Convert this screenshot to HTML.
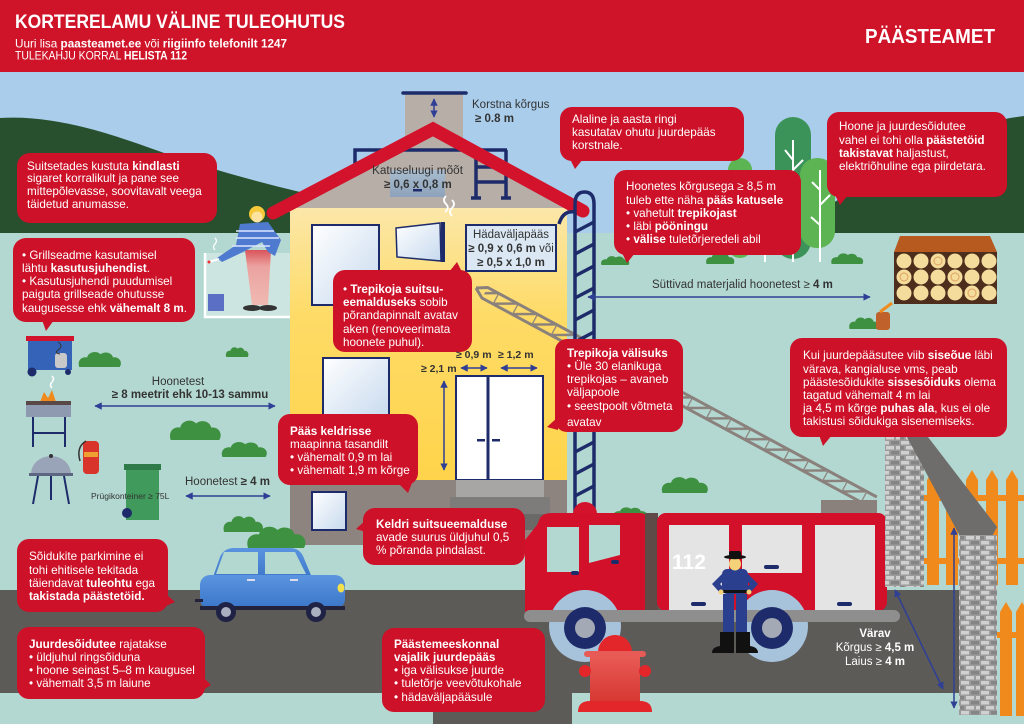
<!DOCTYPE html>
<html><head><meta charset="utf-8">
<style>
html,body{margin:0;padding:0;width:1024px;height:724px;overflow:hidden;background:#b3d8d1}
#wrap{position:relative;width:1024px;height:724px;font-family:"Liberation Sans",Arial,sans-serif}
svg{position:absolute;left:0;top:0}
.b{position:absolute;color:#fff;font-size:11.7px;line-height:13.2px;white-space:nowrap}
.b b{font-weight:bold}
</style></head><body><div id="wrap">
<svg width="1024" height="724" viewBox="0 0 1024 724">
<defs>
<linearGradient id="yel" x1="0" y1="0" x2="0" y2="1"><stop offset="0" stop-color="#fbe7a9"/><stop offset="0.4" stop-color="#fedb66"/><stop offset="1" stop-color="#ffd44b"/></linearGradient>
<linearGradient id="win" x1="0" y1="0" x2="1" y2="1"><stop offset="0" stop-color="#ffffff"/><stop offset="1" stop-color="#c6d9ee"/></linearGradient>
<linearGradient id="skl" x1="0" y1="0" x2="0" y2="1"><stop offset="0" stop-color="#a9bccf"/><stop offset="1" stop-color="#8ea3bb"/></linearGradient>
<linearGradient id="leg" x1="0" y1="0" x2="0" y2="1"><stop offset="0" stop-color="#d9545a"/><stop offset="0.3" stop-color="#eba3a0"/><stop offset="1" stop-color="#f0b9b2"/></linearGradient>
<linearGradient id="hyd" x1="0" y1="0" x2="0" y2="1"><stop offset="0" stop-color="#e85a55"/><stop offset="1" stop-color="#d5352f"/></linearGradient>
<linearGradient id="car" x1="0" y1="0" x2="0" y2="1"><stop offset="0" stop-color="#5b95e0"/><stop offset="1" stop-color="#3a75c8"/></linearGradient>
<pattern id="brick" width="20" height="10" patternUnits="userSpaceOnUse">
<rect width="20" height="10" fill="#9c9c9c"/>
<rect x="1" y="1" width="8" height="3.5" fill="#d0d0d0"/><rect x="11" y="1" width="8" height="3.5" fill="#858585"/>
<rect x="-4" y="6" width="8" height="3.5" fill="#858585"/><rect x="6" y="6" width="8" height="3.5" fill="#d0d0d0"/><rect x="16" y="6" width="8" height="3.5" fill="#d0d0d0"/>
</pattern>
<pattern id="truss" width="22" height="12" y="-6" patternUnits="userSpaceOnUse">
<path d="M0,0V12 M0,12L22,0" stroke="#8b817c" stroke-width="2.5" fill="none"/>
</pattern>
<symbol id="bush" viewBox="0 0 40 16" preserveAspectRatio="none"><path d="M2,16 C0,10 4,6 9,7 C10,2 17,0 21,4 C24,1 31,2 32,7 C37,6 41,11 38,16 Z" fill="#3f9142"/></symbol>
<marker id="ah" viewBox="0 0 10 10" refX="9" refY="5" markerWidth="5" markerHeight="5" orient="auto-start-reverse"><path d="M0,0 L10,5 L0,10 z" fill="#2f3f95"/></marker>
</defs>

<!-- header & sky -->
<rect x="0" y="0" width="1024" height="72" fill="#cf1429"/>
<rect x="0" y="72" width="1024" height="170" fill="#a9cdeb"/>
<path d="M0,118 C50,115 100,130 150,148 S250,180 300,192 L300,240 L0,240 Z" fill="#284f2e"/>
<path d="M830,240 L833,203 C880,175 950,130 1010,118 L1024,116 L1024,240 Z" fill="#284f2e"/>
<rect x="0" y="233" width="1024" height="491" fill="#b3d8d1"/>

<!-- road -->
<rect x="0" y="590" width="960" height="103" fill="#5c5b57"/>
<rect x="433" y="690" width="139" height="34" fill="#5c5b57"/>

<!-- trees -->
<rect x="728" y="158" width="24" height="100" rx="12" fill="#5cb552"/>
<rect x="775" y="117" width="36" height="142" rx="18" fill="#3c935a"/>
<rect x="800" y="158" width="35" height="90" rx="17" fill="#5cb552"/>
<path d="M793,140 V262 M793,160 L785,150 M793,170 L803,160 M793,195 L784,185 M820,170 V262 M820,190 L812,182 M820,205 L830,195 M820,225 L811,217 M765,235 V262" stroke="#fff" stroke-width="2" fill="none"/>
<use href="#bush" x="705" y="252" width="30" height="12"/>
<use href="#bush" x="830" y="252" width="34" height="12"/>
<use href="#bush" x="600" y="255" width="30" height="10"/>

<!-- firewood -->
<polygon points="900,236 990,236 997,252 894,252" fill="#b75a1f"/>
<rect x="894" y="252" width="103" height="52" fill="#4d2d1c"/>
<g fill="#f3dc9c">
<circle cx="904" cy="261" r="7.5"/><circle cx="921" cy="261" r="7.5"/><circle cx="938" cy="261" r="7.5"/><circle cx="955" cy="261" r="7.5"/><circle cx="972" cy="261" r="7.5"/><circle cx="989" cy="261" r="7.5"/>
<circle cx="904" cy="277" r="7.5"/><circle cx="921" cy="277" r="7.5"/><circle cx="938" cy="277" r="7.5"/><circle cx="955" cy="277" r="7.5"/><circle cx="972" cy="277" r="7.5"/><circle cx="989" cy="277" r="7.5"/>
<circle cx="904" cy="293" r="7.5"/><circle cx="921" cy="293" r="7.5"/><circle cx="938" cy="293" r="7.5"/><circle cx="955" cy="293" r="7.5"/><circle cx="972" cy="293" r="7.5"/><circle cx="989" cy="293" r="7.5"/>
</g>
<g fill="none" stroke="#e0a060" stroke-width="1"><circle cx="938" cy="261" r="4"/><circle cx="904" cy="277" r="4"/><circle cx="955" cy="277" r="4"/><circle cx="972" cy="293" r="4"/></g>
<use href="#bush" x="848" y="316" width="32" height="13"/>
<rect x="876" y="312" width="14" height="18" rx="3" fill="#c0602a"/>
<path d="M880,312 L892,303" stroke="#f08a1c" stroke-width="3"/>

<!-- bushes left/mid -->
<use href="#bush" x="77" y="350" width="45" height="17"/>
<use href="#bush" x="225" y="346" width="24" height="11"/>
<use href="#bush" x="168" y="418" width="54" height="22"/>
<use href="#bush" x="220" y="440" width="48" height="17"/>
<use href="#bush" x="660" y="475" width="49" height="18"/>

<!-- house -->
<rect x="405" y="93" width="58" height="70" fill="#b7aea8"/>
<line x1="403" y1="93" x2="466" y2="93" stroke="#1e2b6b" stroke-width="3.5" stroke-linecap="round"/>
<line x1="434" y1="99" x2="434" y2="117" stroke="#2f3f95" stroke-width="1.5" marker-start="url(#ah)" marker-end="url(#ah)"/>
<polygon points="284,212 433,132 577,212" fill="#b7aea8"/>
<rect x="290" y="208" width="277" height="272" fill="url(#yel)"/>
<g stroke="#1e2b6b" stroke-width="3.5" fill="none">
<path d="M355,165 V150 H507"/>
<path d="M476,150 V198 M506,150 V198 M476,167 H506 M476,182 H506 M471,198 H481 M501,198 H511"/>
</g>
<rect x="390" y="170" width="55" height="27" fill="url(#skl)"/>
<rect x="413" y="189" width="9" height="2.5" fill="#1e2b6b"/>
<path d="M446,196 q-4,4 0,8 q4,4 -1,8 M452,200 q4,4 0,8 q-4,4 0,8" stroke="#fff" stroke-width="1.8" fill="none"/>
<polyline points="273,213 433,129 583,211" fill="none" stroke="#d2132b" stroke-width="13" stroke-linecap="round" stroke-linejoin="miter"/>

<rect x="312" y="225" width="67" height="80" fill="url(#win)" stroke="#1e2b6b" stroke-width="2"/>
<polygon points="396,228 440,223 441,261 397,257" fill="url(#win)" stroke="#1e2b6b" stroke-width="1.5"/>
<rect x="441" y="222" width="4" height="40" fill="#1e2b6b"/>
<rect x="466" y="225" width="90" height="46" fill="#dbe8f4" stroke="#1e2b6b" stroke-width="2"/>
<rect x="323" y="358" width="66" height="62" fill="url(#win)" stroke="#1e2b6b" stroke-width="2"/>
<rect x="456" y="376" width="87" height="104" fill="#fff" stroke="#1e2b6b" stroke-width="2"/>
<line x1="488" y1="376" x2="488" y2="480" stroke="#1e2b6b" stroke-width="3"/>
<rect x="477" y="439" width="8" height="2.5" fill="#1e2b6b"/><rect x="492" y="439" width="8" height="2.5" fill="#1e2b6b"/>
<rect x="290" y="480" width="277" height="65" fill="#8d8480"/>
<rect x="456" y="480" width="88" height="17" fill="#a8a6a4"/>
<rect x="450" y="497" width="100" height="17" fill="#7d7c7b"/>
<rect x="443" y="514" width="114" height="16" fill="#6a6968"/>
<rect x="312" y="492" width="34" height="38" fill="url(#win)" stroke="#1e2b6b" stroke-width="2"/>

<!-- balcony & person -->
<rect x="204" y="253" width="86" height="64" fill="#cde5e1"/>
<path d="M205,253 V317 H290" stroke="#fff" stroke-width="2.5" fill="none"/>
<rect x="208" y="294" width="16" height="17" fill="#5b6fc4"/>
<polygon points="245,250 271,250 268,305 252,305" fill="url(#leg)"/>
<ellipse cx="252" cy="308" rx="9" ry="3" fill="#333"/><ellipse cx="268" cy="308" rx="9" ry="3" fill="#333"/>
<path d="M240,224 L268,222 L281,240 L275,256 L268,252 L262,242 L243,252 L222,262 L217,258 L236,245 Z" fill="#4e7bd0"/>
<path d="M236,231 H274 M236,238 H279 M232,246 H270" stroke="#dbe6ff" stroke-width="1.6"/>
<circle cx="257" cy="214" r="8" fill="#f6c93a"/><circle cx="257" cy="217" r="5.5" fill="#fde3a0"/>
<path d="M209,262 L219,259" stroke="#fff" stroke-width="2"/><circle cx="209" cy="262" r="1.5" fill="#e33"/>
<path d="M215,250 q-3,-3 0,-6 q3,-3 0,-6" stroke="#fff" stroke-width="1.3" fill="none"/>

<!-- truss ladder -->
<g transform="translate(476,288) rotate(28.3)">
<rect x="10" y="-6" width="442" height="12" fill="url(#truss)"/>
<path d="M0,0 L10,-6 H452 M0,0 L10,6 H452" stroke="#8b817c" stroke-width="3" fill="none"/>
</g>
<rect x="821" y="500" width="56" height="20" fill="#8b817c"/>

<!-- navy ladder -->
<g stroke="#1e2b6b" stroke-width="3.5" fill="none">
<path d="M575,540 V204 Q575,192 584.5,192 Q594,192 594,204 V540"/>
<path d="M575,212 Q563,210 559,224"/>
<path d="M575,232 L594,222 M575,254 L594,244 M575,276 L594,266 M575,298 L594,288 M575,320 L594,310 M575,342 L594,332 M575,364 L594,354 M575,386 L594,376 M575,408 L594,398 M575,430 L594,420 M575,452 L594,442 M575,474 L594,464 M575,496 L594,486 M575,518 L594,508"/>
</g>

<!-- left items -->
<rect x="28" y="340" width="44" height="30" fill="#3563b8"/>
<rect x="26" y="336" width="48" height="5" fill="#d2132b"/>
<rect x="55" y="353" width="12" height="15" rx="3" fill="#c9c9c9"/>
<path d="M58,342 q6,4 0,8 q-4,3 2,4" stroke="#333" stroke-width="1" fill="none"/>
<circle cx="32" cy="372" r="4.5" fill="#1e2b6b"/><circle cx="68" cy="372" r="3" fill="#1e2b6b"/>
<path d="M40,402 L44,392 L48,398 L52,390 L56,402 Z" fill="#f08a1c"/>
<path d="M52,388 q-3,-3 0,-6 q3,-3 0,-6" stroke="#fff" stroke-width="1.5" fill="none"/>
<rect x="26" y="401" width="45" height="16" fill="#8e9ab0"/>
<rect x="26" y="401" width="45" height="4" fill="#5a4848"/>
<path d="M33,417 V447 M65,417 V447 M33,433 H65" stroke="#1e2b6b" stroke-width="2"/>
<path d="M31,474 A20,18 0 0 1 71,474 Z" fill="#9aa4b8"/>
<rect x="29" y="473" width="44" height="3" fill="#5d6680"/>
<circle cx="51" cy="456" r="2" fill="#333"/>
<path d="M38,476 L33,504 M51,476 L51,500 M64,476 L69,504" stroke="#1e2b6b" stroke-width="2"/>
<rect x="83" y="441" width="16" height="33" rx="4" fill="#d8342c"/>
<rect x="84" y="452" width="14" height="5" fill="#f0a030"/>
<path d="M86,441 q-10,6 -6,20" stroke="#333" stroke-width="1.5" fill="none"/>
<rect x="126" y="469" width="33" height="51" fill="#3f9a5b"/>
<rect x="124" y="464" width="37" height="6" fill="#2f7a49"/>
<circle cx="127" cy="513" r="5" fill="#1e2b6b"/>

<!-- car -->
<use href="#bush" x="222" y="514" width="42" height="18"/>
<use href="#bush" x="245" y="524" width="62" height="24"/>
<path d="M212,580 L220,557 Q224,548 234,548 L290,548 Q299,548 303,556 L313,580 Z" fill="url(#car)"/>
<rect x="200" y="575" width="145" height="34" rx="10" fill="url(#car)"/>
<polygon points="216,574 224,552 258,552 258,574" fill="#b2d8d0"/>
<polygon points="265,552 295,552 306,574 265,574" fill="#b2d8d0"/>
<rect x="247" y="579" width="8" height="2" fill="#dde"/><rect x="290" y="579" width="8" height="2" fill="#dde"/>
<rect x="200" y="606" width="145" height="4" fill="#22223a"/>
<rect x="195" y="599" width="8" height="3" fill="#22223a"/>
<ellipse cx="341" cy="588" rx="3.5" ry="4.5" fill="#f3e04a"/>
<circle cx="226" cy="612" r="10" fill="#1f2244"/><circle cx="226" cy="612" r="5" fill="#aab0c0"/>
<circle cx="316" cy="612" r="10" fill="#1f2244"/><circle cx="316" cy="612" r="5" fill="#aab0c0"/>

<!-- fire truck -->
<circle cx="585" cy="514" r="12" fill="#d2132b"/>
<use href="#bush" x="612" y="506" width="36" height="12"/>
<path d="M525,540 L537,525 L540,518 Q543,513 552,513 L640,513 Q647,513 647,520 L647,612 L525,612 Z" fill="#d2102a"/>
<polygon points="547,527 579,527 579,572 547,572" fill="#b3d8d1"/>
<polygon points="589,525 620,525 620,555 589,563" fill="#b3d8d1"/>
<rect x="645" y="513" width="13" height="98" fill="#5e4a47"/>
<rect x="657" y="513" width="230" height="98" rx="9" fill="#d2102a"/>
<rect x="669" y="525" width="60" height="86" fill="#e4e4e4"/>
<rect x="742" y="525" width="60" height="48" fill="#e4e4e4"/>
<rect x="815" y="525" width="60" height="86" fill="#e4e4e4"/>
<text x="672" y="569" fill="#fff" font-family="Liberation Sans, Arial, sans-serif" font-size="21" font-weight="bold">112</text>
<g fill="#1e2b6b"><rect x="691" y="602" width="15" height="4" rx="2"/><rect x="764" y="565" width="15" height="4" rx="2"/><rect x="837" y="602" width="15" height="4" rx="2"/><rect x="571" y="571" width="8" height="4" rx="2"/><rect x="611" y="560" width="8" height="4" rx="2"/></g>
<circle cx="585" cy="626" r="36" fill="#a7c3dc"/>
<circle cx="772" cy="626" r="36" fill="#a7c3dc"/>
<rect x="524" y="610" width="376" height="12" rx="6" fill="#8e8e8e"/>
<circle cx="585" cy="628" r="21" fill="#1e2b6b"/><circle cx="585" cy="628" r="10" fill="#a3aab5"/>
<circle cx="772" cy="628" r="21" fill="#1e2b6b"/><circle cx="772" cy="628" r="10" fill="#a3aab5"/>

<!-- firefighter -->
<rect x="723" y="594" width="11" height="38" fill="#2b3f8f"/><rect x="736" y="594" width="11" height="38" fill="#2b3f8f"/>
<path d="M720,632 H734 V653 H712 Q712,647 720,646 Z" fill="#111"/><path d="M736,632 H750 V646 Q758,647 758,653 H736 Z" fill="#111"/>
<rect x="722" y="569" width="26" height="25" rx="5" fill="#2b3f8f"/>
<path d="M724,572 L712,584 L721,594 L726,590 L720,584 L727,578 Z" fill="#2b3f8f"/>
<path d="M746,572 L758,584 L749,594 L744,590 L750,584 L743,578 Z" fill="#2b3f8f"/>
<rect x="722" y="590" width="26" height="3" fill="#111"/>
<circle cx="721" cy="592" r="2.5" fill="#f3d27a"/><circle cx="749" cy="592" r="2.5" fill="#f3d27a"/>
<ellipse cx="735" cy="564" rx="6" ry="6.5" fill="#f3d27a"/>
<rect x="729" y="551" width="12" height="6" rx="2" fill="#111"/>
<ellipse cx="735" cy="557" rx="11" ry="2.2" fill="#111"/>

<!-- hydrant -->
<path d="M598,652 A17,17 0 0 1 632,652 Z" fill="#e3262a"/>
<rect x="584" y="651" width="62" height="6" rx="3" fill="#e85a55"/>
<rect x="590" y="657" width="50" height="48" fill="url(#hyd)"/>
<circle cx="585" cy="671" r="6" fill="#e3262a"/><circle cx="645" cy="671" r="6" fill="#e3262a"/>
<path d="M578,712 Q578,701 590,701 H640 Q652,701 652,712 Z" fill="#e3262a"/>

<!-- gate -->
<g fill="#f08a1c">
<path d="M927,480 L933,470 L939,480 V585 H927 Z"/><path d="M946,480 L952,470 L958,480 V585 H946 Z"/><path d="M966,480 L972,470 L978,480 V585 H966 Z"/><path d="M986,480 L992,470 L998,480 V585 H986 Z"/><path d="M1006,480 L1012,470 L1018,480 V585 H1006 Z"/>
<rect x="924" y="495" width="100" height="6"/><rect x="924" y="558" width="100" height="6"/>
<path d="M1000,612 L1006,602 L1012,612 V716 H1000 Z"/><path d="M1016,612 L1022,602 L1028,612 V716 H1016 Z"/>
<rect x="997" y="632" width="27" height="6"/>
</g>
<rect x="885" y="437" width="39" height="150" fill="url(#brick)"/>
<polygon points="907,437 928,437 997,527 990,540 962,540" fill="#6e6d6c"/>
<rect x="959" y="535" width="38" height="180" fill="url(#brick)"/>
<line x1="895" y1="590" x2="943" y2="689" stroke="#2f3f95" stroke-width="1.5" marker-start="url(#ah)" marker-end="url(#ah)"/>
<line x1="954" y1="528" x2="954" y2="708" stroke="#2f3f95" stroke-width="1.5" marker-start="url(#ah)" marker-end="url(#ah)"/>

<!-- dimension arrows -->
<g stroke="#2f3f95" stroke-width="1.5">
<line x1="461" y1="368" x2="487" y2="368" marker-start="url(#ah)" marker-end="url(#ah)"/>
<line x1="501" y1="368" x2="537" y2="368" marker-start="url(#ah)" marker-end="url(#ah)"/>
<line x1="444" y1="381" x2="444" y2="470" marker-start="url(#ah)" marker-end="url(#ah)"/>
<line x1="588" y1="297" x2="870" y2="297" marker-start="url(#ah)" marker-end="url(#ah)"/>
<line x1="95" y1="406" x2="275" y2="406" marker-start="url(#ah)" marker-end="url(#ah)"/>
<line x1="186" y1="496" x2="270" y2="496" marker-start="url(#ah)" marker-end="url(#ah)"/>
</g>

<!-- bubbles -->
<g fill="#cc1128">
<rect x="17" y="153" width="200" height="70" rx="13"/>
<rect x="13" y="238" width="182" height="84" rx="13"/><polygon points="42,320 54,320 46,331"/>
<rect x="333" y="270" width="139" height="82" rx="12"/><polygon points="449,272 462,272 457,262"/>
<rect x="278" y="414" width="140" height="71" rx="12"/><polygon points="398,483 412,483 408,493"/>
<rect x="363" y="508" width="162" height="57" rx="12"/><polygon points="366,520 366,532 356,529"/>
<rect x="17" y="539" width="151" height="73" rx="12"/><polygon points="166,594 166,606 175,602"/>
<rect x="17" y="627" width="188" height="72" rx="12"/><polygon points="203,677 203,690 211,685"/>
<rect x="382" y="628" width="163" height="84" rx="12"/>
<rect x="555" y="339" width="128" height="93" rx="12"/><polygon points="558,417 558,430 547,427"/>
<rect x="790" y="338" width="217" height="99" rx="12"/><polygon points="819,435 832,435 823,446"/>
<rect x="560" y="107" width="184" height="54" rx="12"/><polygon points="570,159 583,159 575,169"/>
<rect x="614" y="170" width="187" height="85" rx="12"/><polygon points="622,253 635,253 627,263"/>
<rect x="827" y="112" width="180" height="85" rx="12"/><polygon points="835,195 848,195 840,205"/>
</g>

<!-- header text -->
<g font-family="Liberation Sans, Arial, sans-serif" fill="#fff">
<text x="15" y="28" font-size="19.5" font-weight="bold" textLength="330" lengthAdjust="spacingAndGlyphs">KORTERELAMU VÄLINE TULEOHUTUS</text>
<text x="15" y="47.5" font-size="12" textLength="272" lengthAdjust="spacingAndGlyphs">Uuri lisa <tspan font-weight="bold">paasteamet.ee</tspan> või <tspan font-weight="bold">riigiinfo telefonilt 1247</tspan></text>
<text x="15" y="59.5" font-size="12" textLength="172" lengthAdjust="spacingAndGlyphs">TULEKAHJU KORRAL <tspan font-weight="bold">HELISTA 112</tspan></text>
<text x="865" y="43" font-size="20" font-weight="bold" textLength="130" lengthAdjust="spacingAndGlyphs">PÄÄSTEAMET</text>
<text x="875" y="637" font-size="11.5" font-weight="bold" text-anchor="middle">Värav</text>
<text x="875" y="651" font-size="11.5" text-anchor="middle">Kõrgus ≥ <tspan font-weight="bold">4,5 m</tspan></text>
<text x="875" y="665" font-size="11.5" text-anchor="middle">Laius  ≥ <tspan font-weight="bold">4 m</tspan></text>
</g>

<!-- labels -->
<g font-family="Liberation Sans, Arial, sans-serif" fill="#333">
<text x="472" y="108" font-size="11.5">Korstna kõrgus</text>
<text x="475" y="122" font-size="11.5" font-weight="bold">≥ 0.8 m</text>
<text x="372" y="174" font-size="11.5" textLength="91" lengthAdjust="spacingAndGlyphs">Katuseluugi mõõt</text>
<text x="384" y="188" font-size="11.5" font-weight="bold">≥ 0,6 x 0,8 m</text>
<text x="511" y="238" text-anchor="middle" font-size="11.5">Hädaväljapääs</text>
<text x="511" y="252" text-anchor="middle" font-size="11.5"><tspan font-weight="bold">≥ 0,9 x 0,6 m</tspan> või</text>
<text x="511" y="266" text-anchor="middle" font-size="11.5" font-weight="bold">≥ 0,5 x 1,0 m</text>
<text x="456" y="358" font-size="10.5" font-weight="bold">≥ 0,9 m</text>
<text x="498" y="358" font-size="10.5" font-weight="bold">≥ 1,2 m</text>
<text x="421" y="372" font-size="10.5" font-weight="bold">≥ 2,1 m</text>
<text x="652" y="288" font-size="11.5">Süttivad materjalid hoonetest ≥ <tspan font-weight="bold">4 m</tspan></text>
<text x="178" y="385" font-size="11.5" text-anchor="middle">Hoonetest</text>
<text x="190" y="398" font-size="11.5" font-weight="bold" text-anchor="middle">≥ 8 meetrit ehk 10-13 sammu</text>
<text x="185" y="485" font-size="11.5">Hoonetest <tspan font-weight="bold">≥ 4 m</tspan></text>
<text x="91" y="499" font-size="8.5">Prügikonteiner ≥ 75L</text>
</g>
</svg>

<div class="b" style="left:27px;top:160.5px;line-height:12.8px">Suitsetades kustuta <b>kindlasti</b><br>sigaret korralikult ja pane see<br>mittepõlevasse, soovitavalt veega<br>täidetud anumasse.</div>
<div class="b" style="left:22px;top:248.7px">• Grillseadme kasutamisel<br>lähtu <b>kasutusjuhendist</b>.<br>• Kasutusjuhendi puudumisel<br>paiguta grillseade ohutusse<br>kaugusesse ehk <b>vähemalt 8 m</b>.</div>
<div class="b" style="left:343px;top:283px">• <b>Trepikoja suitsu-<br>eemalduseks</b> sobib<br>põrandapinnalt avatav<br>aken (renoveerimata<br>hoonete puhul).</div>
<div class="b" style="left:290px;top:424.7px"><b>Pääs keldrisse</b><br>maapinna tasandilt<br>• vähemalt 0,9 m lai<br>• vähemalt 1,9 m kõrge</div>
<div class="b" style="left:376px;top:517.7px"><b>Keldri suitsueemalduse</b><br>avade suurus üldjuhul 0,5<br>% põranda pindalast.</div>
<div class="b" style="left:29px;top:550.4px">Sõidukite parkimine ei<br>tohi ehitisele tekitada<br>täiendavat <b>tuleohtu</b> ega<br><b>takistada päästetöid.</b></div>
<div class="b" style="left:29px;top:637.7px"><b>Juurdesõidutee</b> rajatakse<br>• üldjuhul ringsõiduna<br>• hoone seinast 5–8 m kaugusel<br>• vähemalt 3,5 m laiune</div>
<div class="b" style="left:394px;top:637.7px"><b>Päästemeeskonnal<br>vajalik juurdepääs</b><br>• iga välisukse juurde<br>• tuletõrje veevõtukohale<br>• hädaväljapääsule</div>
<div class="b" style="left:567px;top:346.7px"><b>Trepikoja välisuks</b><br>• Üle 30 elanikuga<br>trepikojas – avaneb<br>väljapoole<br>• seestpoolt võtmeta<br><span style="display:inline-block;margin-top:3px">avatav</span></div>
<div class="b" style="left:803px;top:349.4px">Kui juurdepääsutee viib <b>siseõue</b> läbi<br>värava, kangialuse vms, peab<br>päästesõidukite <b>sissesõiduks</b> olema<br>tagatud vähemalt 4 m lai<br>ja 4,5 m kõrge <b>puhas ala</b>, kus ei ole<br>takistusi sõidukiga sisenemiseks.</div>
<div class="b" style="left:572px;top:112.7px">Alaline ja aasta ringi<br>kasutatav ohutu juurdepääs<br>korstnale.</div>
<div class="b" style="left:626px;top:180.4px">Hoonetes kõrgusega ≥ 8,5 m<br>tuleb ette näha <b>pääs katusele</b><br>• vahetult <b>trepikojast</b><br>• läbi <b>pööningu</b><br>• <b>välise</b> tuletõrjeredeli abil</div>
<div class="b" style="left:839px;top:120.4px">Hoone ja juurdesõidutee<br>vahel ei tohi olla <b>päästetöid<br>takistavat</b> haljastust,<br>elektriõhuline ega piirdetara.</div>
</div></body></html>
